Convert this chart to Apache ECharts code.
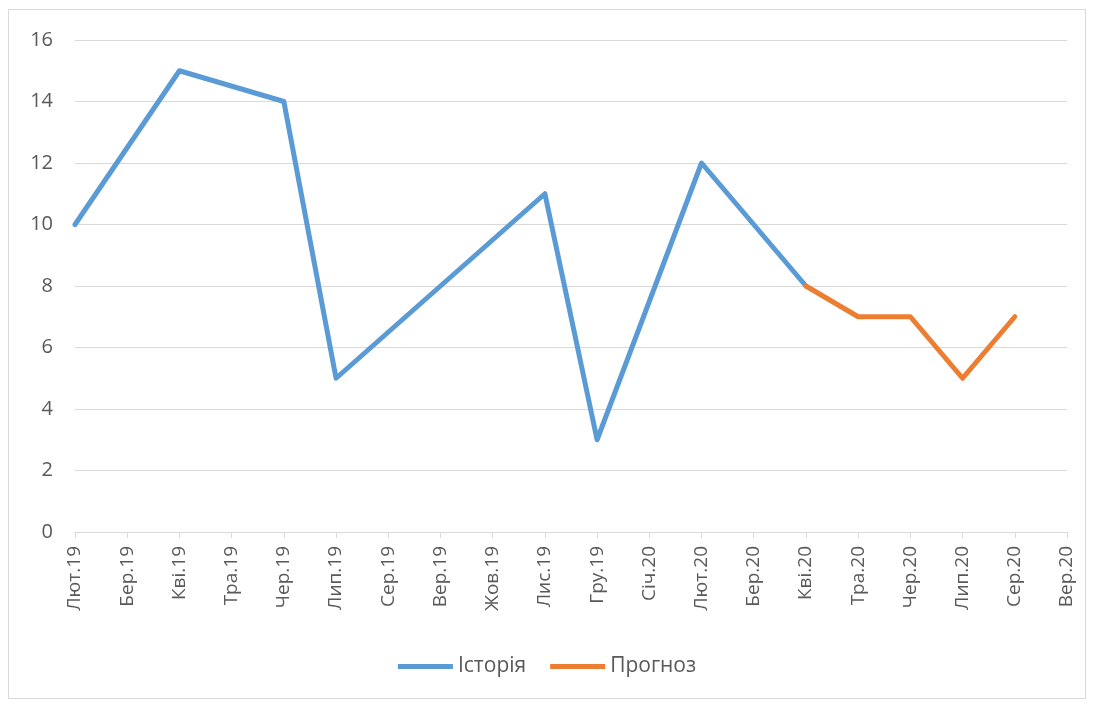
<!DOCTYPE html>
<html>
<head>
<meta charset="utf-8">
<script src="https://cdn.jsdelivr.net/npm/echarts@6/dist/echarts.min.js"></script>
<style>
html,body{margin:0;padding:0;background:#fff;}
#frame{position:absolute;left:8px;top:9px;width:1078px;height:690px;border:1px solid #d9d9d9;box-sizing:border-box;}
#chart{position:absolute;left:0;top:0;width:1094px;height:704px;}
</style>
</head>
<body>
<div id="frame"></div>
<div id="chart"></div>
<script>
const categories = ['Лют.19','Бер.19','Кві.19','Тра.19','Чер.19','Лип.19','Сер.19','Вер.19','Жов.19','Лис.19','Гру.19','Січ.20','Лют.20','Бер.20','Кві.20','Тра.20','Чер.20','Лип.20','Сер.20','Вер.20'];
const history = [10, null, 15, null, 14, 5, null, null, null, 11, 3, null, 12, null, 8, null, null, null, null, null];
const forecast = [null, null, null, null, null, null, null, null, null, null, null, null, null, null, 8, 7, 7, 5, 7, null];
const yTicks = {min: 0, max: 16, interval: 2};
const seriesNames = ['Історія', 'Прогноз'];

const FONT = '"Open Sans", "Liberation Sans", sans-serif';
const chart = echarts.init(document.getElementById('chart'));
chart.setOption({
  animation: false,
  color: ['#5b9bd5', '#ed7d31'],
  grid: {left: 75, right: 27, top: 40, bottom: 172, containLabel: false},
  legend: {
    bottom: 22, left: 'center',
    itemWidth: 55, itemHeight: 5, itemGap: 24,
    icon: 'rect',
    textStyle: {color: '#595959', fontSize: 21, fontFamily: FONT},
    data: seriesNames
  },
  xAxis: {
    type: 'category', data: categories, boundaryGap: false,
    axisLine: {lineStyle: {color: '#d9d9d9', width: 1}},
    axisTick: {show: true, length: 6, lineStyle: {color: '#d9d9d9'}},
    axisLabel: {rotate: 90, interval: 0, margin: 14, color: '#595959', fontSize: 19, fontFamily: FONT},
    splitLine: {show: false}
  },
  yAxis: {
    type: 'value', min: yTicks.min, max: yTicks.max, interval: yTicks.interval,
    axisLine: {show: false}, axisTick: {show: false},
    axisLabel: {margin: 22, color: '#595959', fontSize: 20, fontFamily: FONT},
    splitLine: {lineStyle: {color: '#d9d9d9', width: 1}}
  },
  series: [
    {name: seriesNames[0], type: 'line', data: history, connectNulls: true, showSymbol: false, symbol: 'none',
     lineStyle: {width: 5, color: '#5b9bd5', join: 'round', cap: 'round'}},
    {name: seriesNames[1], type: 'line', data: forecast, connectNulls: true, showSymbol: false, symbol: 'none',
     lineStyle: {width: 5, color: '#ed7d31', join: 'round', cap: 'round'}}
  ]
});
</script>
</body>
</html>
